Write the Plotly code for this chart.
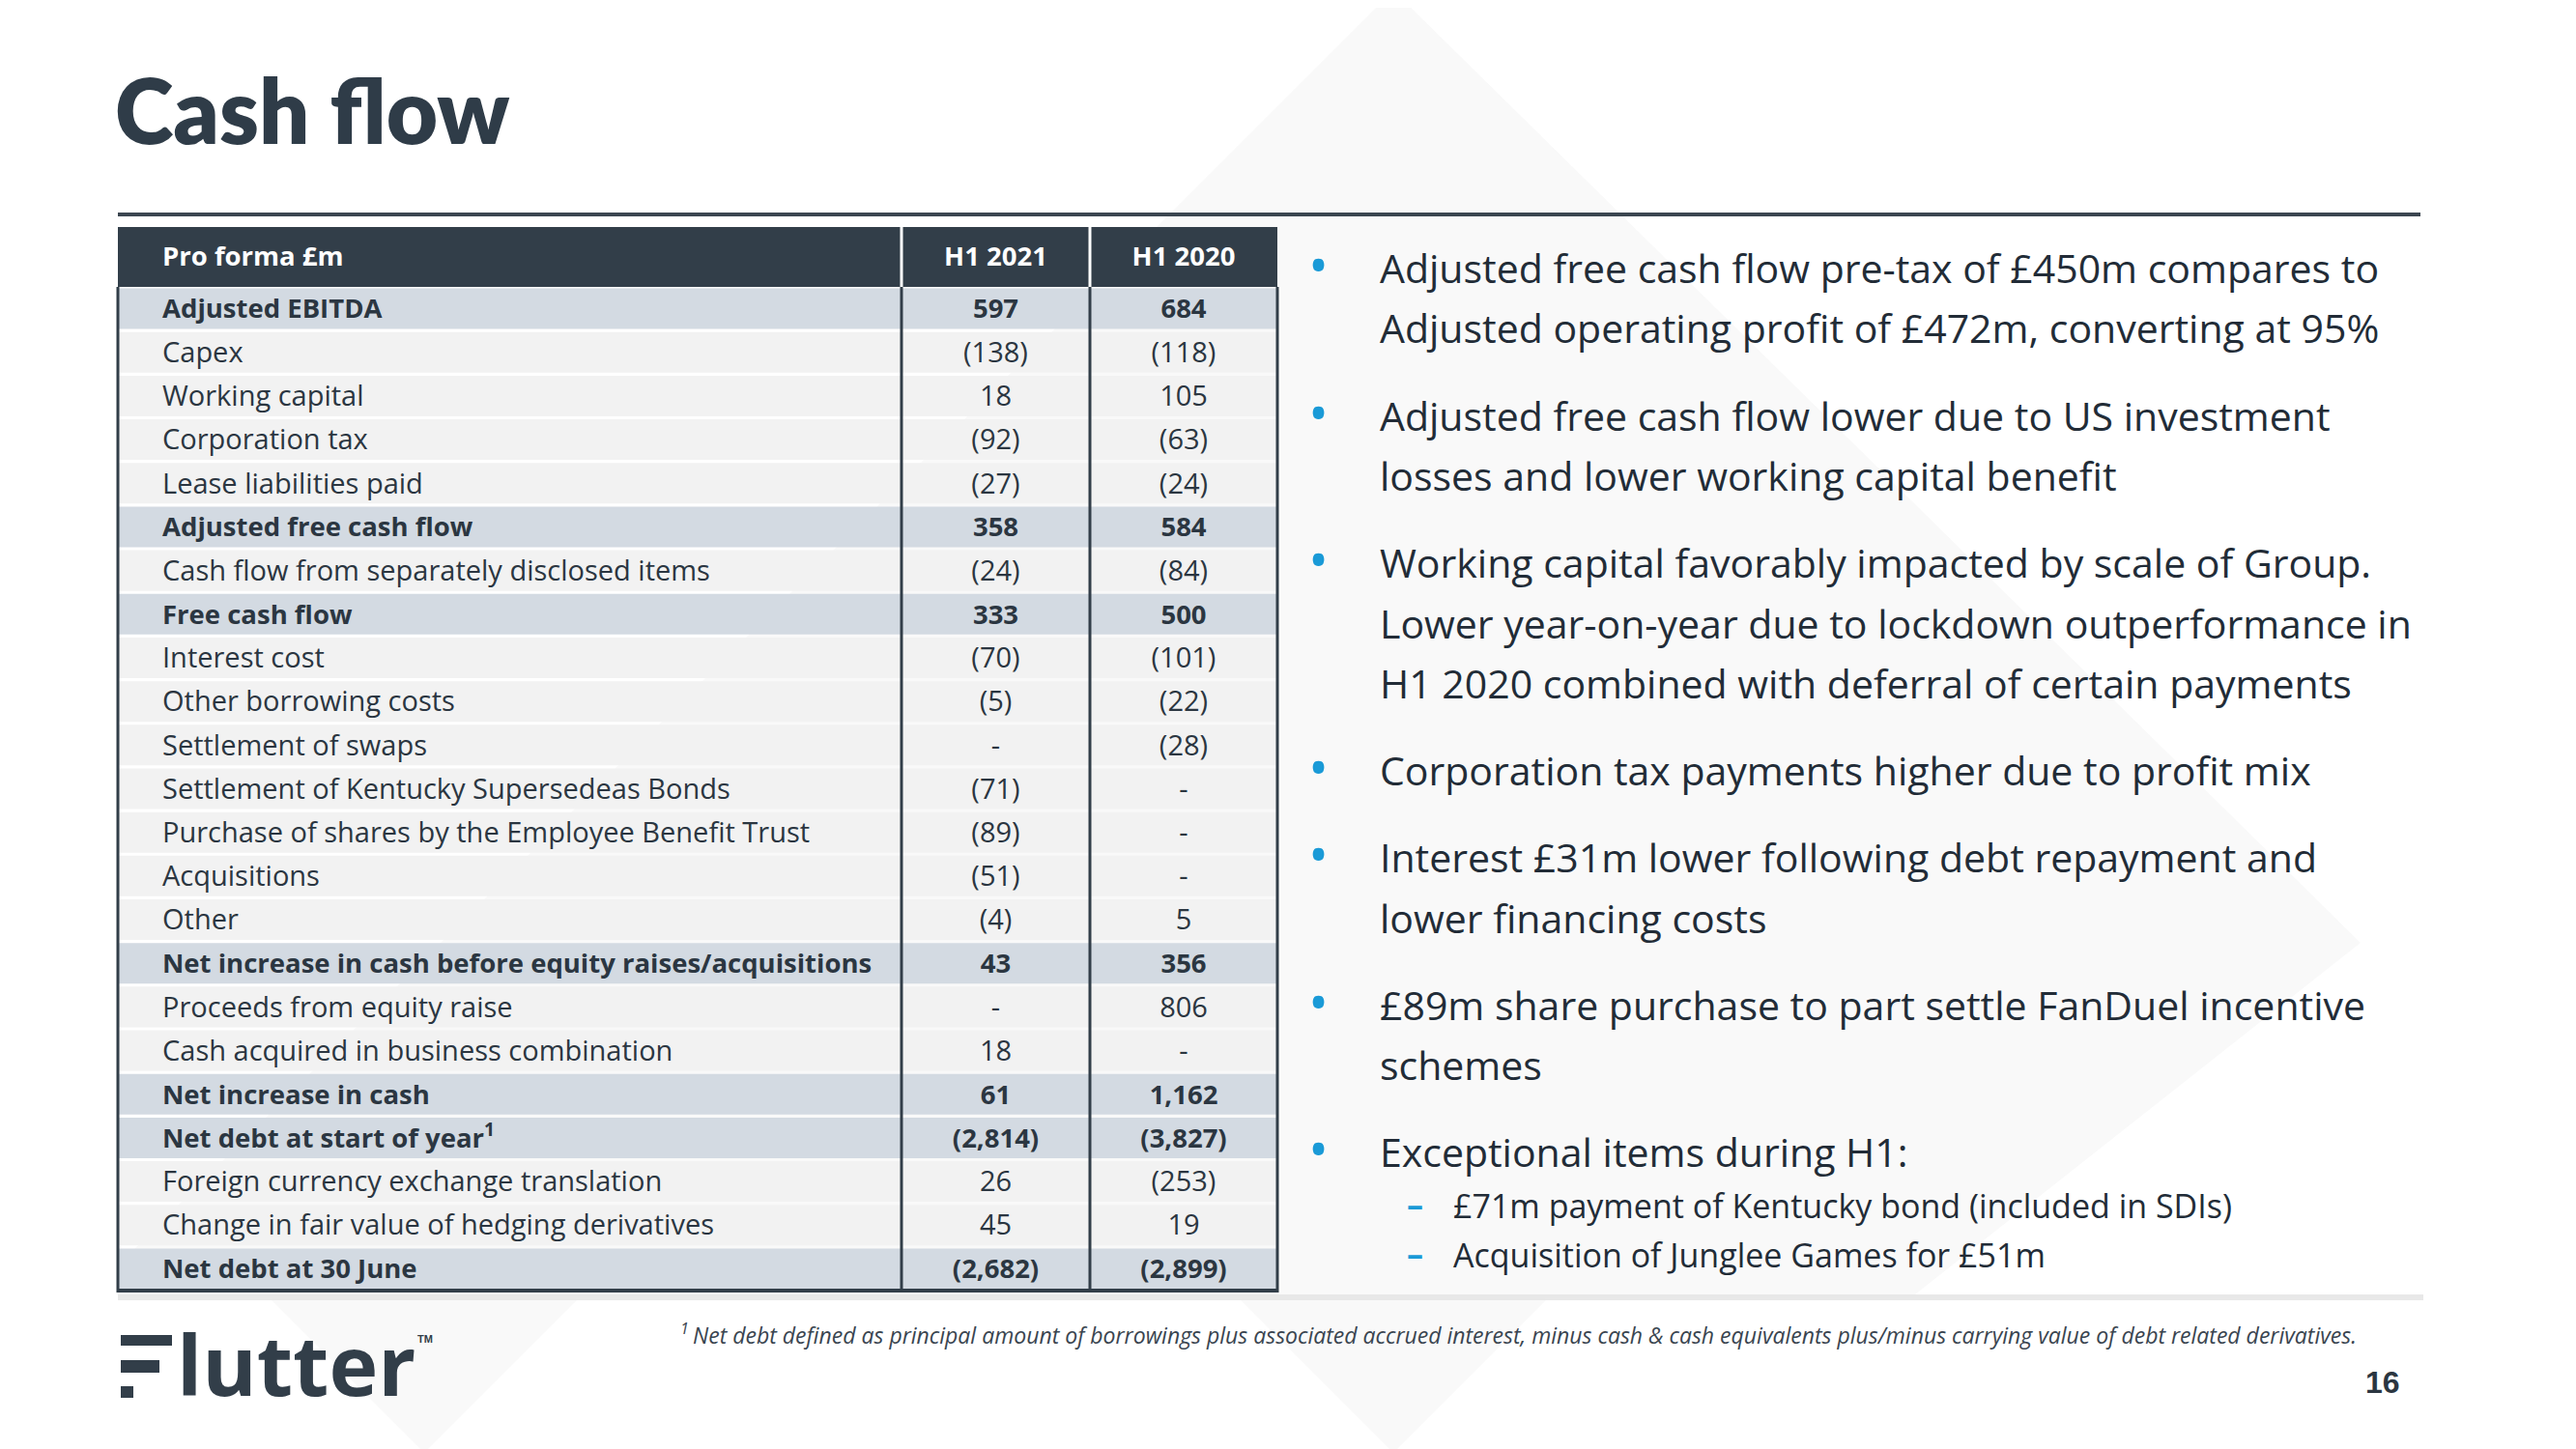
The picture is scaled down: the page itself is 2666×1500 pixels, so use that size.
import plotly.graph_objects as go

# Table contents (Pro forma £m)
row_labels = [
    "Adjusted EBITDA", "Capex", "Working capital", "Corporation tax",
    "Lease liabilities paid", "Adjusted free cash flow",
    "Cash flow from separately disclosed items", "Free cash flow",
    "Interest cost", "Other borrowing costs", "Settlement of swaps",
    "Settlement of Kentucky Supersedeas Bonds",
    "Purchase of shares by the Employee Benefit Trust", "Acquisitions", "Other",
    "Net increase in cash before equity raises/acquisitions",
    "Proceeds from equity raise", "Cash acquired in business combination",
    "Net increase in cash", "Net debt at start of year<sup>1</sup>",
    "Foreign currency exchange translation",
    "Change in fair value of hedging derivatives", "Net debt at 30 June",
]
h1_2021 = [597, -138, 18, -92, -27, 358, -24, 333, -70, -5, None, -71, -89, -51,
           -4, 43, None, 18, 61, -2814, 26, 45, -2682]
h1_2020 = [684, -118, 105, -63, -24, 584, -84, 500, -101, -22, -28, None, None,
           None, 5, 356, 806, None, 1162, -3827, -253, 19, -2899]
header = ["Pro forma £m", "H1 2021", "H1 2020"]
subtotal_rows = [0, 5, 7, 15, 18, 19, 22]

bullets = [
    ["Adjusted free cash flow pre-tax of £450m compares to",
     "Adjusted operating profit of £472m, converting at 95%"],
    ["Adjusted free cash flow lower due to US investment",
     "losses and lower working capital benefit"],
    ["Working capital favorably impacted by scale of Group.",
     "Lower year-on-year due to lockdown outperformance in",
     "H1 2020 combined with deferral of certain payments"],
    ["Corporation tax payments higher due to profit mix"],
    ["Interest £31m lower following debt repayment and",
     "lower financing costs"],
    ["£89m share purchase to part settle FanDuel incentive", "schemes"],
    ["Exceptional items during H1:"],
]
sub_bullets = ["£71m payment of Kentucky bond (included in SDIs)",
               "Acquisition of Junglee Games for £51m"]
footnote = ("<sup>1 </sup>Net debt defined as principal amount of borrowings plus associated "
            "accrued interest, minus cash &amp; cash equivalents plus/minus carrying value "
            "of debt related derivatives.")

W, H = 2666, 1500
OFF = 8  # page body margin around the plot div
DARK = "#323e49"
TEXT = "#2b3641"
BLUE = "#1a9ad7"
FONT = "Open Sans"


def px(x):
    return (x - OFF) / W


def py(y):
    return 1 - (y - OFF) / H


def fmt(v):
    if v is None:
        return "-"
    s = f"{abs(v):,}"
    return f"({s})" if v < 0 else s


# table geometry (pixels on the slide)
col_widths = [811, 195, 194]
t_left, t_top, h_bottom, t_bottom = 122, 235, 297, 1336
text_drop = 3  # text sits slightly below the row centre
col_starts = [sum(col_widths[:i]) for i in range(3)]
col_mid = [s + w / 2 for s, w in zip(col_starts, col_widths)]
edges = [t_left + s for s in col_starts] + [t_left + sum(col_widths)]

n = len(row_labels)
rows = list(range(n))
fills = ["#d3dae2" if i in subtotal_rows else "#f2f2f2" for i in rows]

fig = go.Figure()

# cell backgrounds
for j, w in enumerate(col_widths):
    fig.add_trace(go.Bar(
        y=rows, x=[w] * n, base=[col_starts[j]] * n, orientation="h", width=0.93,
        marker=dict(color=fills, line_width=0), hoverinfo="skip", showlegend=False,
    ))
fig.add_trace(go.Bar(
    y=[0, 0, 0], x=col_widths, base=col_starts, orientation="h", width=1,
    marker=dict(color=DARK, line_width=0), yaxis="y2", hoverinfo="skip", showlegend=False,
))


def add_text(xs, ys, texts, weight, pos, size, color=TEXT, yaxis="y3"):
    fig.add_trace(go.Scatter(
        x=xs, y=ys, text=texts, mode="text", textposition=pos, yaxis=yaxis,
        textfont=dict(family=FONT, size=size, color=color, weight=weight),
        hoverinfo="skip", showlegend=False, cliponaxis=False,
    ))


# header text
add_text([46], [0], [header[0]], 700, "middle right", 27.5, "white", "y4")
add_text(col_mid[1:], [0, 0], header[1:], 700, "middle center", 27.5, "white", "y4")

# body text
for bold in (True, False):
    idx = [i for i in rows if (i in subtotal_rows) == bold]
    w, sz = (700, 27.5) if bold else (400, 29)
    add_text([46] * len(idx), idx, [row_labels[i] for i in idx], w, "middle right", sz)
    add_text([col_mid[1]] * len(idx), idx, [fmt(h1_2021[i]) for i in idx], w, "middle center", sz)
    add_text([col_mid[2]] * len(idx), idx, [fmt(h1_2020[i]) for i in idx], w, "middle center", sz)

shapes = []
# faint background diamonds
bg = "#f9f9f9"
shapes.append(dict(type="path", xref="paper", yref="paper", layer="below", line_width=0,
                   fillcolor=bg,
                   path=f"M {px(1442)} {py(-10)} L {px(2443)} {py(976)} L {px(1982)} {py(1340)} "
                        f"L {px(122)} {py(1340)} L {px(122)} {py(1310)} Z"))
for cx in (439, 1442):
    shapes.append(dict(type="path", xref="paper", yref="paper", layer="below", line_width=0,
                       fillcolor=bg,
                       path=f"M {px(cx - 158)} {py(1346)} L {px(cx + 158)} {py(1346)} "
                            f"L {px(cx)} {py(1504)} Z"))

# rule under title and grey band above footer
shapes.append(dict(type="line", xref="paper", yref="paper", x0=px(122), x1=px(2505),
                   y0=py(222), y1=py(222), line=dict(color="#3b4650", width=4)))
shapes.append(dict(type="rect", xref="paper", yref="paper", x0=px(122), x1=px(2508),
                   y0=py(1340), y1=py(1346), fillcolor="#e8e8e8", line_width=0))

# table borders
for k, x in enumerate(edges):
    shapes.append(dict(type="line", xref="paper", yref="paper", x0=px(x), x1=px(x),
                       y0=py(h_bottom), y1=py(t_bottom + 2), line=dict(color=DARK, width=3)))
    if 0 < k < 3:
        shapes.append(dict(type="line", xref="paper", yref="paper", x0=px(x), x1=px(x),
                           y0=py(t_top), y1=py(h_bottom), line=dict(color="white", width=3)))
shapes.append(dict(type="line", xref="paper", yref="paper", x0=px(edges[0] - 1), x1=px(edges[-1] + 1),
                   y0=py(t_bottom), y1=py(t_bottom), line=dict(color=DARK, width=4)))

# logo mark (stylised F)
for x0, x1, y0, y1 in [(125, 178, 1382, 1393), (125, 165, 1408, 1421), (125, 138, 1435, 1447)]:
    shapes.append(dict(type="rect", xref="paper", yref="paper", x0=px(x0), x1=px(x1),
                       y0=py(y1), y1=py(y0), fillcolor=DARK, line_width=0))

ann = []
ann.append(dict(text="Cash flow", x=px(117), y=py(113), xanchor="left", yanchor="middle",
                font=dict(family="Lato", size=92, color="#2f3c48", weight=800)))

# bullets
y = 277
for lines in bullets:
    ann.append(dict(text="•", x=px(1364), y=py(y - 4), xanchor="center", yanchor="middle",
                    font=dict(family=FONT, size=56, color=BLUE)))
    for line in lines:
        ann.append(dict(text=line, x=px(1426), y=py(y), xanchor="left", yanchor="middle",
                        font=dict(family=FONT, size=41, color="#222c37")))
        y += 62.5
    y += 90 - 62.5
y += 56 - 90
for line in sub_bullets:
    ann.append(dict(text="–", x=px(1464), y=py(y - 2), xanchor="center", yanchor="middle",
                    font=dict(family=FONT, size=34, color=BLUE, weight=700)))
    ann.append(dict(text=line, x=px(1502), y=py(y), xanchor="left", yanchor="middle",
                    font=dict(family=FONT, size=34, color="#222c37")))
    y += 51

ann.append(dict(text=f"<i>{footnote}</i>", x=px(702), y=py(1381), xanchor="left", yanchor="middle",
                font=dict(family=FONT, size=23, color="#3a4550")))
ann.append(dict(text="<b>16</b>", x=px(2466), y=py(1431), xanchor="center", yanchor="middle",
                font=dict(family="Liberation Sans", size=32, color="#2b3641")))
ann.append(dict(text="lutter", x=px(181), y=py(1411), xanchor="left", yanchor="middle",
                font=dict(family=FONT, size=86, color=DARK, weight=700)))
ann.append(dict(text="TM", x=px(440), y=py(1386), xanchor="center", yanchor="middle",
                font=dict(family="Liberation Sans", size=11, color=DARK, weight=700)))
for a in ann:
    a.update(xref="paper", yref="paper", showarrow=False)

hidden = dict(visible=False, fixedrange=True)
fig.update_layout(
    width=W, height=H, margin=dict(l=0, r=0, t=0, b=0),
    paper_bgcolor="white", plot_bgcolor="rgba(0,0,0,0)",
    barmode="overlay", shapes=shapes, annotations=ann,
    xaxis=dict(domain=[px(t_left), px(t_left + sum(col_widths))], range=[0, sum(col_widths)], **hidden),
    yaxis=dict(domain=[py(t_bottom), py(h_bottom)], range=[n - 0.5, -0.5], **hidden),
    yaxis2=dict(domain=[py(h_bottom), py(t_top)], range=[0.5, -0.5], anchor="x", **hidden),
    yaxis3=dict(domain=[py(t_bottom + text_drop), py(h_bottom + text_drop)], range=[n - 0.5, -0.5],
                anchor="x", **hidden),
    yaxis4=dict(domain=[py(h_bottom + 2), py(t_top + 2)], range=[0.5, -0.5], anchor="x", **hidden),
)

fig.write_html("out.html")
